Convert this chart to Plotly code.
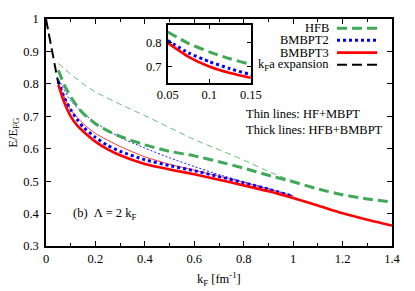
import plotly.graph_objects as go

# ---------------- data ----------------
kF_thick = [0.05, 0.075, 0.1, 0.125, 0.15, 0.2, 0.25, 0.3, 0.4, 0.5, 0.6, 0.7, 0.8, 0.9, 1.0, 1.1, 1.2, 1.3, 1.4]
hfb_thick = [0.842, 0.795, 0.760, 0.732, 0.709, 0.677, 0.655, 0.638, 0.612, 0.592, 0.578, 0.560, 0.540, 0.518, 0.498, 0.476, 0.458, 0.445, 0.436]
bmbpt3_thick = [0.797, 0.740, 0.700, 0.673, 0.654, 0.622, 0.598, 0.580, 0.553, 0.536, 0.521, 0.504, 0.487, 0.469, 0.448, 0.425, 0.401, 0.381, 0.363]

kF_b2 = [0.05, 0.075, 0.1, 0.125, 0.15, 0.2, 0.25, 0.3, 0.4, 0.5, 0.6, 0.7, 0.8, 0.9, 1.0]
bmbpt2_thick = [0.807, 0.756, 0.720, 0.691, 0.667, 0.635, 0.610, 0.592, 0.566, 0.548, 0.532, 0.514, 0.495, 0.475, 0.453]

kF_thin = [0.05, 0.1, 0.15, 0.2, 0.3, 0.4, 0.5, 0.6, 0.7, 0.8, 0.9, 1.0]
hf_thin = [0.863, 0.830, 0.800, 0.775, 0.737, 0.702, 0.665, 0.628, 0.597, 0.565, 0.530, 0.500]
mbpt2_thin = [0.815, 0.748, 0.710, 0.680, 0.635, 0.602, 0.572, 0.545, 0.520, 0.498, 0.477, 0.455]
mbpt3_thin = [0.800, 0.720, 0.678, 0.647, 0.607, 0.575, 0.552, 0.534, 0.515, 0.496, 0.476, 0.454]

kF_exp = [0.0, 0.01, 0.02, 0.03, 0.04, 0.05]
kfa_exp = [1.0, 0.96, 0.92, 0.88, 0.84, 0.80]

x_ticks_inset = [0.05, 0.1, 0.15]
y_ticks_inset = [0.7, 0.8]

legend_names = ["HFB", "BMBPT2", "BMBPT3", "k<sub>F</sub>a expansion"]

# ---------------- style ----------------
GREEN = "#3fa957"
BLUE = "#0000ff"
RED = "#ff0000"
BLACK = "#000000"
FONT = "Liberation Serif"
FS = 12.5

fig = go.Figure()

def add(x, y, color, width, dash, xa="x", ya="y"):
    fig.add_trace(go.Scatter(x=x, y=y, mode="lines", xaxis=xa, yaxis=ya,
                             line=dict(color=color, width=width, dash=dash, shape="spline", smoothing=0.6),
                             showlegend=False, hoverinfo="skip"))

# thin lines
add(kF_thin, hf_thin, GREEN, 0.8, "6px,4px")
add(kF_thin, mbpt2_thin, BLUE, 0.9, "2px,2px")
add(kF_thin, mbpt3_thin, RED, 0.8, "solid")
# thick lines
add(kF_thick, hfb_thick, GREEN, 3, "10px,5px")
add(kF_b2, bmbpt2_thick, BLUE, 3, "3px,3px")
add(kF_thick, bmbpt3_thick, RED, 2.6, "solid")
add(kF_exp, kfa_exp, BLACK, 2, "10px,5px")

# inset (thick only)
add(kF_thick, hfb_thick, GREEN, 3, "10px,5px", "x2", "y2")
add(kF_b2, bmbpt2_thick, BLUE, 3, "3px,3px", "x2", "y2")
add(kF_thick, bmbpt3_thick, RED, 2.6, "solid", "x2", "y2")

axis_common = dict(showline=True, linecolor="black", linewidth=1.5, mirror="ticks",
                   ticks="inside", tickcolor="black", tickwidth=1, showgrid=False,
                   zeroline=False, tickfont=dict(family=FONT, size=FS, color="black"))

fig.update_layout(
    width=415, height=291,
    margin=dict(l=46, r=16, t=13, b=45),
    paper_bgcolor="white", plot_bgcolor="white",
    font=dict(family=FONT, size=FS, color="black"),
    showlegend=False,
    xaxis=dict(range=[0, 1.4], dtick=0.2, ticklen=5, ticklabelstandoff=0,
               minor=dict(dtick=0.1, ticks="inside", ticklen=3, tickcolor="black"),
               **axis_common),
    yaxis=dict(range=[0.3, 1.0], dtick=0.1, ticklen=5, ticklabelstandoff=3, **axis_common),
    xaxis2=dict(domain=[0.352, 0.592], anchor="y2", range=[0.05, 0.15],
                tickvals=x_ticks_inset, ticklen=4, **axis_common),
    yaxis2=dict(domain=[0.720, 0.974], anchor="x2", range=[0.634, 0.871],
                tickvals=y_ticks_inset, ticklen=4, ticklabelstandoff=2, **axis_common),
)

# custom gnuplot-style legend
rows_y = [0.959, 0.906, 0.852, 0.798]
styles = [(GREEN, 3, "10px,5px"), (BLUE, 3, "3px,3px"), (RED, 2.6, "solid"), (BLACK, 2, "10px,5px")]
for name, yy, (c, w, d) in zip(legend_names, rows_y, styles):
    fig.add_annotation(x=0.825, y=yy, xref="paper", yref="paper", text=name,
                       showarrow=False, xanchor="right", yanchor="middle",
                       font=dict(family=FONT, size=FS, color="black"))
    fig.add_shape(type="line", xref="paper", yref="paper", x0=0.841, x1=0.957, y0=yy, y1=yy,
                  line=dict(color=c, width=w, dash=d))

fig.add_annotation(x=0.573, y=0.58, xref="paper", yref="paper", text="Thin lines: HF+MBPT",
                   showarrow=False, xanchor="left", yanchor="middle", font=dict(family=FONT, size=FS))
fig.add_annotation(x=0.573, y=0.512, xref="paper", yref="paper", text="Thick lines: HFB+BMBPT",
                   showarrow=False, xanchor="left", yanchor="middle", font=dict(family=FONT, size=FS))
fig.add_annotation(x=0.072, y=0.142, xref="paper", yref="paper", text="(b)  Λ = 2 k<sub>F</sub>",
                   showarrow=False, xanchor="left", yanchor="middle", font=dict(family=FONT, size=FS))
fig.add_annotation(x=-0.095, y=0.5, xref="paper", yref="paper", text="E/E<sub>FG</sub>",
                   showarrow=False, textangle=-90, xanchor="center", yanchor="middle",
                   font=dict(family=FONT, size=FS))
fig.add_annotation(x=0.499, y=-0.145, xref="paper", yref="paper", text="k<sub>F</sub> [fm<sup>-1</sup>]",
                   showarrow=False, xanchor="center", yanchor="middle", font=dict(family=FONT, size=FS))

fig.write_html(
    "out.html",
    config={"displayModeBar": False},
    post_script=("document.body.style.margin='0px';"
                 "document.body.style.overflow='hidden';"
                 "document.documentElement.style.overflow='hidden';"),
)
